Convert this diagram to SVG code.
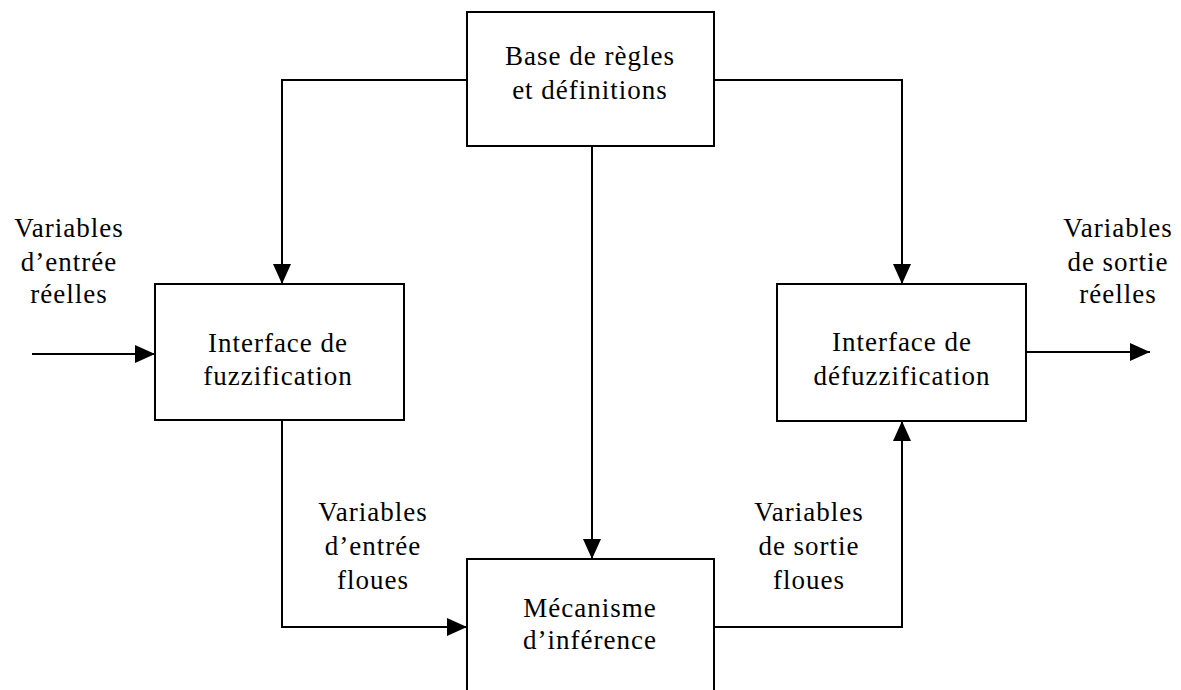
<svg xmlns="http://www.w3.org/2000/svg" width="1181" height="690" viewBox="0 0 1181 690">
<style>
.box{fill:#fff;stroke:#000;stroke-width:2}
.ln{fill:none;stroke:#000;stroke-width:2}
text{font-family:"Liberation Serif","Times New Roman",serif;font-size:27px;fill:#000;text-anchor:middle;letter-spacing:1px}
</style>
<defs>
<marker id="ah" viewBox="0 0 20 18" refX="20" refY="9" markerWidth="20" markerHeight="18" markerUnits="userSpaceOnUse" orient="auto">
<path d="M0,0 L20,9 L0,18 Z" fill="#000"/>
</marker>
</defs>
<rect width="1181" height="690" fill="#fff"/>
<g id="connectors">
<path class="ln" d="M467,80 H282 V284" marker-end="url(#ah)"/>
<path class="ln" d="M714,80 H902 V284" marker-end="url(#ah)"/>
<path class="ln" d="M592,146 V559" marker-end="url(#ah)"/>
<path class="ln" d="M32,354 H155" marker-end="url(#ah)"/>
<path class="ln" d="M1026,352 H1150" marker-end="url(#ah)"/>
<path class="ln" d="M282,420 V627 H467" marker-end="url(#ah)"/>
<path class="ln" d="M714,627 H902 V421" marker-end="url(#ah)"/>
</g>
<g id="base">
<rect class="box" x="467" y="12" width="247" height="134"/>
<text x="590" y="65">Base de règles</text>
<text x="590" y="99">et définitions</text>
</g>
<g id="fuzz">
<rect class="box" x="155" y="284" width="249" height="136"/>
<text x="278" y="352">Interface de</text>
<text x="278" y="385">fuzzification</text>
</g>
<g id="defuzz">
<rect class="box" x="777" y="284" width="249" height="137"/>
<text x="902" y="351">Interface de</text>
<text x="902" y="385">défuzzification</text>
</g>
<g id="inference">
<rect class="box" x="467" y="559" width="247" height="140"/>
<text x="590" y="617">Mécanisme</text>
<text x="590" y="649">d’inférence</text>
</g>
<g id="labels">
<text x="69" y="237">Variables</text>
<text x="69" y="271">d’entrée</text>
<text x="69" y="303">réelles</text>
<text x="1118" y="237">Variables</text>
<text x="1118" y="271">de sortie</text>
<text x="1118" y="303">réelles</text>
<text x="373" y="521">Variables</text>
<text x="373" y="555">d’entrée</text>
<text x="373" y="589">floues</text>
<text x="809" y="521">Variables</text>
<text x="809" y="555">de sortie</text>
<text x="809" y="589">floues</text>
</g>
</svg>
